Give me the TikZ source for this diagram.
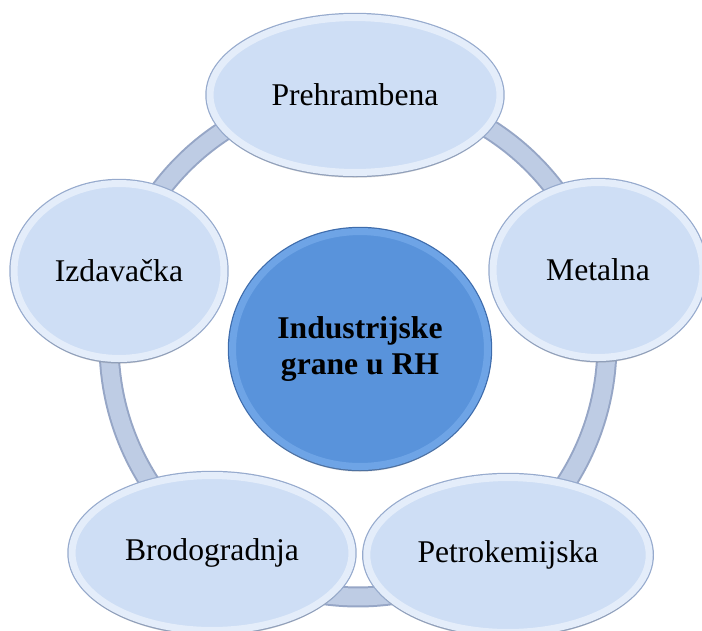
\documentclass[tikz,border=0pt]{standalone}
\usepackage{fontspec}
\setmainfont{Liberation Serif}
\usetikzlibrary{shapes.geometric,shadows}

\definecolor{nodecore}{RGB}{206,222,245}
\definecolor{noderim}{RGB}{228,237,250}
\definecolor{nodeedge}{RGB}{150,170,205}
\definecolor{hubfill}{RGB}{89,147,219}
\definecolor{hubrim}{RGB}{110,164,230}
\definecolor{hubedge}{RGB}{62,108,172}
\definecolor{ringfill}{RGB}{190,204,228}
\definecolor{ringedge}{RGB}{150,166,198}

\tikzset{
  branch/.style={ellipse, fill=nodecore, draw=noderim, line width=4pt,
    preaction={draw=nodeedge, line width=5.4pt},
    drop shadow={shadow xshift=0pt, shadow yshift=-3pt, opacity=0.25},
    font=\fontsize{18}{21}\selectfont, inner sep=0pt},
  hubnode/.style={ellipse, fill=hubfill, draw=hubrim, line width=4pt,
    preaction={draw=hubedge, line width=5.4pt},
    drop shadow={shadow xshift=0pt, shadow yshift=-3pt, opacity=0.25},
    font=\bfseries\fontsize{18}{21}\selectfont, align=center, inner sep=0pt}
}

\begin{document}
\begin{tikzpicture}[x=0.02cm,y=-0.02cm]
\useasboundingbox (0,0) rectangle (702,630);

% ring behind the branches
\coordinate (ringc) at (358,344);
\draw[ringedge, line width=0.42cm] (ringc) ellipse [x radius=4.98cm, y radius=5.06cm];
\draw[ringfill, line width=0.34cm] (ringc) ellipse [x radius=4.98cm, y radius=5.06cm];

\node[hubnode, minimum width=5.1cm, minimum height=4.7cm] (hub) at (360,349)
  {Industrijske\\grane u RH};

\node[branch, minimum width=5.8cm, minimum height=3.1cm] (prehr) at (355,95) {Prehrambena};
\node[branch, minimum width=4.2cm, minimum height=3.5cm] (metal) at (598,270) {Metalna};
\node[branch, minimum width=4.2cm, minimum height=3.5cm] (izdav) at (119,271) {Izdavačka};
\node[branch, minimum width=5.6cm, minimum height=3.1cm] (brodo) at (212,553) {Brodogradnja};
\node[branch, minimum width=5.65cm, minimum height=3.1cm] (petro) at (508,555) {Petrokemijska};

\end{tikzpicture}
\end{document}
